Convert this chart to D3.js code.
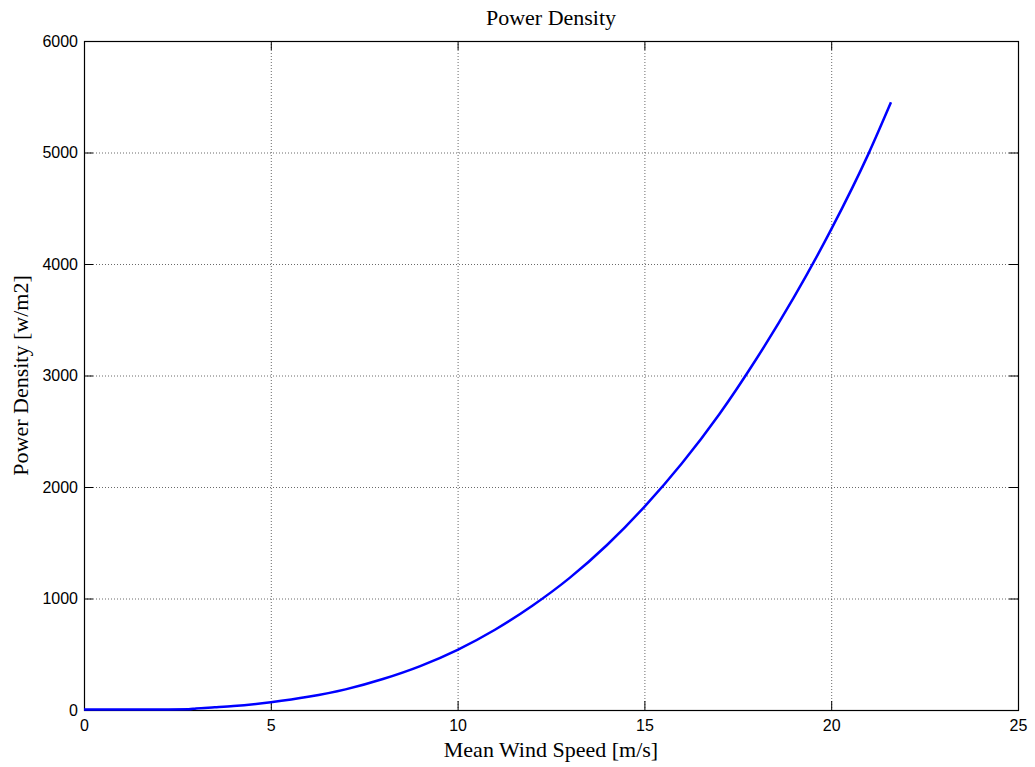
<!DOCTYPE html>
<html>
<head>
<meta charset="utf-8">
<script src="https://cdn.jsdelivr.net/npm/d3@7"></script>
<style>
  body { margin: 0; background: #fff; }
  svg { display: block; }
</style>
</head>
<body>
<div id="chart"></div>
<script>
// wind speed [m/s] and power density [w/m2]
const windSpeed = [0, 1, 2, 2.8, 3, 3.5, 4, 5, 6, 7, 8, 9, 10, 11, 12, 13, 14, 15, 16, 17, 18, 19, 20, 21, 21.6];
const powerDensity = [4, 4, 4, 6, 14, 24, 35, 70, 118, 185, 278, 394, 540, 720, 935, 1185, 1480, 1822, 2210, 2650, 3150, 3700, 4310, 4990, 5450];

const xTicks = [0, 5, 10, 15, 20, 25];
const yTicks = [0, 1000, 2000, 3000, 4000, 5000, 6000];

const width = 1035, height = 767;
const margin = {top: 41, right: 17, bottom: 57, left: 84};

const svg = d3.select("#chart").append("svg")
    .attr("width", width)
    .attr("height", height);

const x = d3.scaleLinear().domain([0, 25]).range([margin.left, width - margin.right]);
const y = d3.scaleLinear().domain([0, 6000]).range([height - margin.bottom, margin.top]);

const data = windSpeed.map((v, i) => ({v: v, p: powerDensity[i]}));

// grid
const grid = svg.append("g")
    .attr("stroke", "#444")
    .attr("stroke-width", 0.8)
    .attr("stroke-dasharray", "1,2");

grid.selectAll(".gx")
    .data(xTicks.slice(1, -1))
    .enter().append("line")
    .attr("x1", d => x(d) + 0.5).attr("x2", d => x(d) + 0.5)
    .attr("y1", y(6000)).attr("y2", y(0));

grid.selectAll(".gy")
    .data(yTicks.slice(1, -1))
    .enter().append("line")
    .attr("y1", d => y(d) + 0.5).attr("y2", d => y(d) + 0.5)
    .attr("x1", x(0)).attr("x2", x(25));

// axes (ticks inward, MATLAB style)
const tickLen = 9;
const axisFont = "'Liberation Sans', Arial, sans-serif";

svg.append("g")
    .attr("transform", `translate(0, ${y(0)})`)
    .call(d3.axisBottom(x).tickValues(xTicks).tickSize(-tickLen).tickSizeOuter(0).tickPadding(10))
    .call(g => g.select(".domain").remove())
    .call(g => g.selectAll("text").attr("font-family", axisFont).attr("font-size", 16).attr("fill", "#000"));

svg.append("g")
    .attr("transform", `translate(0, ${y(6000)})`)
    .call(d3.axisTop(x).tickValues(xTicks).tickSize(-tickLen).tickSizeOuter(0).tickFormat(""))
    .call(g => g.select(".domain").remove());

svg.append("g")
    .attr("transform", `translate(${x(0)}, 0)`)
    .call(d3.axisLeft(y).tickValues(yTicks).tickSize(-tickLen).tickSizeOuter(0).tickPadding(6).tickFormat(d3.format("d")))
    .call(g => g.select(".domain").remove())
    .call(g => g.selectAll("text").attr("font-family", axisFont).attr("font-size", 16).attr("fill", "#000"));

svg.append("g")
    .attr("transform", `translate(${x(25)}, 0)`)
    .call(d3.axisRight(y).tickValues(yTicks).tickSize(-tickLen).tickSizeOuter(0).tickFormat(""))
    .call(g => g.select(".domain").remove());

svg.selectAll(".tick line").attr("stroke", "#000");

// box
svg.append("rect")
    .attr("x", x(0) + 0.5)
    .attr("y", y(6000) + 0.5)
    .attr("width", x(25) - x(0))
    .attr("height", y(0) - y(6000))
    .attr("fill", "none")
    .attr("stroke", "#000")
    .attr("stroke-width", 1.2);

// curve
svg.append("path")
    .datum(data)
    .attr("fill", "none")
    .attr("stroke", "#0000ff")
    .attr("stroke-width", 2.5)
    .attr("d", d3.line().x(d => x(d.v)).y(d => y(d.p)).curve(d3.curveMonotoneX));

// labels
const serif = "'Liberation Serif', 'Times New Roman', serif";

svg.append("text")
    .attr("x", (x(0) + x(25)) / 2)
    .attr("y", 25)
    .attr("text-anchor", "middle")
    .attr("font-family", serif)
    .attr("font-size", 22)
    .text("Power Density");

svg.append("text")
    .attr("x", (x(0) + x(25)) / 2)
    .attr("y", 757)
    .attr("text-anchor", "middle")
    .attr("font-family", serif)
    .attr("font-size", 22)
    .text("Mean Wind Speed [m/s]");

svg.append("text")
    .attr("transform", `translate(28, ${(y(0) + y(6000)) / 2}) rotate(-90)`)
    .attr("text-anchor", "middle")
    .attr("font-family", serif)
    .attr("font-size", 22)
    .text("Power Density [w/m2]");
</script>
</body>
</html>
